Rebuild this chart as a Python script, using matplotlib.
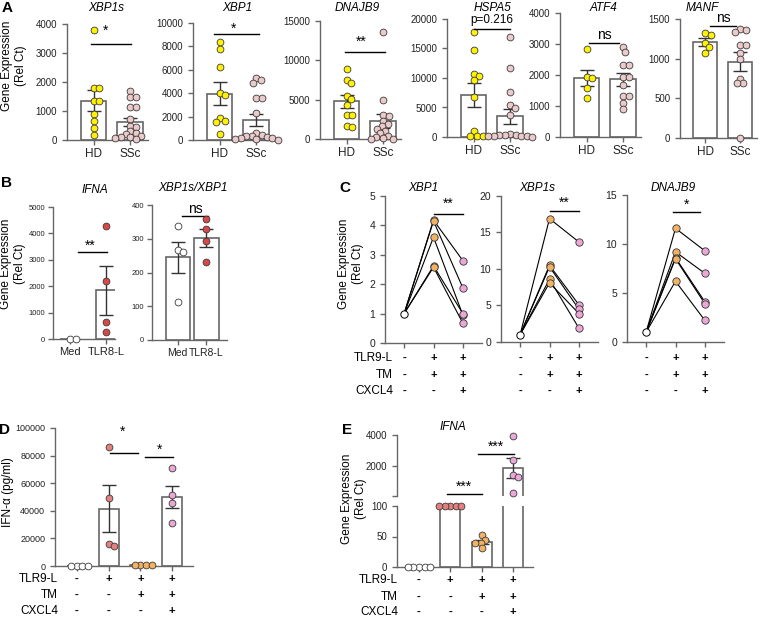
import numpy as np
import matplotlib
matplotlib.use('Agg')
import matplotlib.pyplot as plt
import matplotlib.transforms as mtransforms

plt.rcParams['font.family'] = ['Liberation Sans', 'DejaVu Sans']

# ---- data ----
# A: HD vs SSc
xbp1s_hd = [3790, 1780, 1780, 1360, 1360, 900, 670, 425, 170]
xbp1s_ssc = [1700, 1500, 1500, 1150, 1150, 720, 500, 450, 300, 250, 200, 150, 100, 100, 80, 50]
xbp1_hd = [8340, 7770, 6200, 4000, 3860, 1860, 1660, 1510, 490]
xbp1_ssc = [5300, 5100, 4900, 3550, 3550, 2300, 600, 450, 350, 300, 250, 200, 150, 100, 50, 30]
dnajb9_hd = [8900, 7500, 7100, 5500, 5100, 4300, 3100, 3100, 1600, 1500]
dnajb9_ssc = [13600, 4900, 3100, 2900, 2300, 1900, 1600, 1300, 1000, 700, 400, 200, 100, 50, 0]
hspa5_hd = [17750, 14750, 10600, 10400, 9600, 6760, 970, 230, 230, 230]
hspa5_ssc = [16950, 11700, 7630, 5420, 4900, 3730, 500, 400, 300, 300, 200, 200, 100, 100, 50]
atf4_hd = [2840, 1940, 1900, 1580, 1260]
atf4_ssc = [2900, 2730, 2330, 2330, 1920, 1920, 1690, 1310, 1310, 1100, 910]
manf_hd = [1320, 1300, 1200, 1150, 1070]
manf_ssc = [1370, 1365, 1335, 1170, 1170, 1075, 990, 750, 690, 690, 0]

# B: Med vs TLR8-L
ifna_med = [0, 0]
ifna_tlr8 = [4280, 2200, 640, 250]
ratio_med = [338, 266, 261, 113]
ratio_tlr8 = [358, 328, 294, 232]

# C: paired, baseline = 1
c_base = 1
c_xbp1_tm = [4.18, 4.15, 3.6, 2.62, 2.58]
c_xbp1_cx = [2.8, 1.87, 0.95, 1.0, 0.67]
c_xbp1s_tm = [16.9, 10.5, 10.3, 8.6, 8.1]
c_xbp1s_cx = [13.7, 5.1, 4.5, 1.9, 3.9]
c_dnajb9_tm = [11.6, 9.2, 8.6, 8.5, 6.2]
c_dnajb9_cx = [9.3, 7.0, 4.1, 3.9, 2.2]

# D: IFN-a protein
d_med = [0, 0, 0, 0]
d_tlr9 = [86000, 49500, 16000, 14500]
d_tm = [500, 500, 500, 500]
d_cxcl4 = [71000, 51500, 46000, 31500]

# E: IFNA expression
e_med = [0, 0, 0, 0, 0]
e_tlr9 = [100, 100, 100, 100, 100]
e_tm = [52, 45, 40, 39, 31]
e_cxcl4 = [3960, 2390, 1460, 1310, 300]

row_labels = ['TLR9-L', 'TM', 'CXCL4']
c_signs = [['-', '+', '+'], ['-', '+', '+'], ['-', '-', '+']]
de_signs = [['-', '+', '+', '+'], ['-', '-', '+', '+'], ['-', '-', '-', '+']]

# colours
YELLOW = '#FFF200'
SSC = '#EACACA'
RED = '#D84848'
ORANGE = '#F2B266'
LILAC = '#EBA8D6'
SALMON = '#E58080'
AXC = '#666666'

W, H = 763, 617
fig = plt.figure(figsize=(W / 100, H / 100), dpi=100)


def fx(x):
    return x / W


def fy(y):
    return 1 - y / H


def add_ax(l, t, r, b):
    ax = fig.add_axes([l / W, 1 - b / H, (r - l) / W, (b - t) / H])
    ax.patch.set_alpha(0)
    for s in ['top', 'right']:
        ax.spines[s].set_visible(False)
    for s in ['left', 'bottom']:
        ax.spines[s].set_color(AXC)
        ax.spines[s].set_linewidth(1.0)
    ax.tick_params(color=AXC, labelcolor='#222222', width=1.0, length=3.5, labelsize=7)
    return ax


def swarm(vals, ypx, xpx, d=5.6):
    # simple beeswarm: place each point as near the centre as it can go
    vals = np.asarray(vals, float)
    ys = vals * ypx
    xs = np.zeros(len(vals))
    done = []
    for i in np.argsort(-vals, kind='stable'):
        cands = [0.0]
        for j in done:
            dy = ys[i] - ys[j]
            if abs(dy) < d:
                dx = np.sqrt(d * d - dy * dy)
                cands += [xs[j] + dx, xs[j] - dx]
        cands.sort(key=abs)
        for c in cands:
            if all((c - xs[j]) ** 2 + (ys[i] - ys[j]) ** 2 >= d * d - 1e-6 for j in done):
                xs[i] = c
                break
        done.append(i)
    return xs / xpx


def scales(ax):
    bb = ax.get_position()
    x0, x1 = ax.get_xlim()
    y0, y1 = ax.get_ylim()
    return bb.height * H / (y1 - y0), bb.width * W / (x1 - x0)


def bar_group(ax, x, vals, color, width, bar=True, err=True, pts=True):
    vals = np.asarray(vals, float)
    m = vals.mean()
    se = vals.std(ddof=1) / np.sqrt(len(vals))
    if bar:
        ax.bar(x, m, width, color='white', edgecolor=AXC, lw=1.2, zorder=1)
    if err and se > 0:
        ax.errorbar(x, m, yerr=se, fmt='none', ecolor='#333333', elinewidth=1,
                    capsize=5, capthick=1, zorder=2)
    if pts:
        ypx, xpx = scales(ax)
        offs = swarm(vals - ax.get_ylim()[0], ypx, xpx)
        ax.scatter(x + offs, vals, s=24, c=color, edgecolors='#3a3a3a',
                   linewidths=0.6, zorder=3, clip_on=False)
    return m


def sig(ax, x0, x1, y, text, tx, ty, fs=10):
    ax.plot([x0, x1], [y, y], color='black', lw=1, clip_on=False, zorder=4)
    ax.text(tx, ty, text, ha='center', va='center', fontsize=fs, clip_on=False)


def ylab(x, y, text):
    fig.text(fx(x), fy(y), text, rotation=90, ha='center', va='center',
             fontsize=8.5, linespacing=1.25)


def rows(ax, signs, ys, lab_x=None):
    tr = mtransforms.blended_transform_factory(ax.transData, fig.transFigure)
    for row, y in zip(signs, ys):
        for i, s in enumerate(row):
            ax.text(i, fy(y), s, transform=tr, ha='center', va='center',
                    fontsize=8, fontweight='bold')
    if lab_x is not None:
        for lab, y in zip(row_labels, ys):
            fig.text(fx(lab_x), fy(y), lab, ha='right', va='center', fontsize=8.5)


# ---- panel A ----
a_titles = ['XBP1s', 'XBP1', 'DNAJB9', 'HSPA5', 'ATF4', 'MANF']
a_hd = [xbp1s_hd, xbp1_hd, dnajb9_hd, hspa5_hd, atf4_hd, manf_hd]
a_ssc = [xbp1s_ssc, xbp1_ssc, dnajb9_ssc, hspa5_ssc, atf4_ssc, manf_ssc]
a_ymax = [4000, 10000, 15000, 20000, 4000, 1500]
a_step = [1000, 2000, 5000, 5000, 1000, 500]
a_boxes = [(67, 24, 148, 140), (193, 23, 274, 140), (320, 21, 401, 139),
           (447, 19, 528, 137), (560, 13, 641, 137), (680, 19, 757, 138)]
a_title_x = [106, 237, 357, 493, 603, 702]
a_sig = [(-0.08, 1.03, 3320, '*', 0.33, 3760),
         (-0.14, 1.08, 9060, '*', 0.38, 9490),
         (-0.03, 1.05, 11100, '**', 0.39, 12360),
         (0.0, 1.0, 18250, None, 0, 0),
         (0.08, 0.89, 3030, None, 0, 0),
         (0.14, 0.89, 1413, None, 0, 0)]
a_word = [None, None, None, 'p=0.216', 'ns', 'ns']

for k in range(6):
    ax = add_ax(*a_boxes[k])
    ax.set_xlim(-0.72, 1.48)
    ax.set_ylim(0, a_ymax[k])
    ax.set_yticks(np.arange(0, a_ymax[k] + 1, a_step[k]))
    ax.set_xticks([0, 1], ['HD', 'SSc'])
    ax.tick_params(axis='x', labelsize=8.5, pad=2)
    bar_group(ax, 0, a_hd[k], YELLOW, 0.7)
    bar_group(ax, 1, a_ssc[k], SSC, 0.7)
    x0, x1, y, t, tx, ty = a_sig[k]
    if t:
        sig(ax, x0, x1, y, t, tx, ty)
    else:
        ax.plot([x0, x1], [y, y], color='black', lw=1, clip_on=False, zorder=4)
        ax.annotate(a_word[k], ((x0 + x1) / 2, y), xytext=(0, 2.5 if a_word[k] != 'ns' else 0.5),
                    textcoords='offset points', ha='center', va='bottom',
                    fontsize=8.5 if a_word[k] != 'ns' else 10)
    fig.text(fx(a_title_x[k]), fy(8), a_titles[k], ha='center', va='center',
             style='italic', fontsize=8.5)

fig.text(fx(7), fy(8), 'A', fontsize=11, fontweight='bold', ha='center', va='center')
ylab(14, 66, 'Gene Expression\n(Rel Ct)')

# ---- panel B ----
axb1 = add_ax(53, 207, 115, 339)
axb1.set_xlim(-0.47, 1.25)
axb1.set_ylim(0, 5000)
axb1.set_yticks(np.arange(0, 5001, 1000))
axb1.set_xticks([0, 1], ['Med', 'TLR8-L'])
axb1.tick_params(axis='y', labelsize=5.5, pad=2)
axb1.tick_params(axis='x', labelsize=8, pad=2)
bar_group(axb1, 0, ifna_med, 'white', 0.53)
bar_group(axb1, 1, ifna_tlr8, RED, 0.53)
sig(axb1, 0.22, 1.03, 3290, '**', 0.56, 3540)
fig.text(fx(95), fy(190), 'IFNA', ha='center', va='center', style='italic', fontsize=8.5)

axb2 = add_ax(152, 205, 227, 340)
axb2.set_xlim(-0.9, 1.72)
axb2.set_ylim(0, 400)
axb2.set_yticks(np.arange(0, 401, 100))
axb2.set_xticks([0, 1], ['Med', 'TLR8-L'])
axb2.tick_params(axis='y', labelsize=5.5, pad=2)
axb2.tick_params(axis='x', labelsize=7.5, pad=2)
bar_group(axb2, 0, ratio_med, 'white', 0.85)
bar_group(axb2, 1, ratio_tlr8, RED, 0.85)
axb2.plot([0.16, 1.07], [366, 366], color='black', lw=1, clip_on=False)
axb2.text(0.6, 366, 'ns', ha='center', va='bottom', fontsize=10)
fig.text(fx(193), fy(188), 'XBP1s/XBP1', ha='center', va='center', style='italic', fontsize=8.5)

fig.text(fx(7), fy(183), 'B', fontsize=11, fontweight='bold', ha='center', va='center')
ylab(13, 264, 'Gene Expression\n(Rel Ct)')

# ---- panel C ----
c_tm = [c_xbp1_tm, c_xbp1s_tm, c_dnajb9_tm]
c_cx = [c_xbp1_cx, c_xbp1s_cx, c_dnajb9_cx]
c_titles = ['XBP1', 'XBP1s', 'DNAJB9']
c_title_x = [423, 537, 673]
c_ymax = [5, 20, 15]
c_step = [1, 5, 5]
c_boxes = [(385, 196, 482, 343), (501, 196, 598, 342), (627, 195, 724, 342)]
c_sig = [(1.03, 2.0, 4.4, '**', 1.5, 4.72),
         (1.03, 2.0, 18.0, '**', 1.5, 19.1),
         (0.9, 1.85, 13.3, '*', 1.38, 14.0)]

for k in range(3):
    ax = add_ax(*c_boxes[k])
    ax.set_xlim(-0.65, 2.65)
    ax.set_ylim(0, c_ymax[k])
    ax.set_yticks(np.arange(0, c_ymax[k] + 0.01, c_step[k]))
    ax.set_xticks([0, 1, 2], ['', '', ''])
    ax.tick_params(axis='y', labelsize=7.5)
    for a, b in zip(c_tm[k], c_cx[k]):
        ax.plot([0, 1, 2], [c_base, a, b], color='black', lw=0.8, zorder=1)
    ax.scatter([0], [c_base], s=28, c='white', edgecolors='black', linewidths=0.7,
               zorder=3, clip_on=False)
    ax.scatter(np.ones(len(c_tm[k])), c_tm[k], s=28, c=ORANGE, edgecolors='#333333',
               linewidths=0.6, zorder=3, clip_on=False)
    ax.scatter(np.full(len(c_cx[k]), 2), c_cx[k], s=28, c=LILAC, edgecolors='#333333',
               linewidths=0.6, zorder=3, clip_on=False)
    x0, x1, y, t, tx, ty = c_sig[k]
    sig(ax, x0, x1, y, t, tx, ty)
    fig.text(fx(c_title_x[k]), fy(188), c_titles[k], ha='center', va='center',
             style='italic', fontsize=8.5)
    rows(ax, c_signs, [358, 375, 391], lab_x=393 if k == 0 else None)

fig.text(fx(345), fy(188), 'C', fontsize=11, fontweight='bold', ha='center', va='center')
ylab(351, 264, 'Gene Expression\n(Rel Ct)')

# ---- panel D ----
axd = add_ax(55, 428, 193, 566)
axd.set_xlim(-0.69, 3.66)
axd.set_ylim(0, 100000)
axd.set_yticks(np.arange(0, 100001, 20000))
axd.set_xticks([0, 1, 2, 3], ['', '', '', ''])
axd.tick_params(axis='y', labelsize=6.5)
for i, (v, c) in enumerate(zip([d_med, d_tlr9, d_tm, d_cxcl4], ['white', SALMON, ORANGE, LILAC])):
    bar_group(axd, i, v, c, 0.63)
sig(axd, 1.04, 1.93, 82000, '*', 1.45, 97300)
sig(axd, 2.15, 3.03, 79000, '*', 2.59, 84000)
rows(axd, de_signs, [579, 595, 611], lab_x=58)
fig.text(fx(5), fy(430), 'D', fontsize=11, fontweight='bold', ha='center', va='center')
ylab(8, 492, 'IFN-α (pg/ml)')

# ---- panel E (broken axis) ----
axu = add_ax(397, 435, 533, 496)
axl = add_ax(397, 506, 533, 567)
for ax in (axu, axl):
    ax.set_xlim(-0.7, 3.64)
axu.set_ylim(100, 4000)
axl.set_ylim(0, 100)
axu.spines['bottom'].set_visible(False)
axu.set_xticks([])
axu.set_yticks([100, 2000, 4000], ['', '2000', '4000'])
axl.set_yticks([0, 50, 100])
axl.set_xticks([0, 1, 2, 3], ['', '', '', ''])
for ax in (axu, axl):
    ax.tick_params(axis='y', labelsize=7)

for i, (v, c) in enumerate(zip([e_med, e_tlr9, e_tm], ['white', SALMON, ORANGE])):
    bar_group(axl, i, v, c, 0.64)
m4 = bar_group(axu, 3, e_cxcl4, LILAC, 0.64)
# the tall bar runs on through the lower segment, open at the break
top_l = axl.get_ylim()[1]
for xe in (3 - 0.32, 3 + 0.32):
    axl.plot([xe, xe], [0, min(m4, top_l)], color=AXC, lw=1.2, zorder=1,
             clip_on=False, solid_capstyle='butt')

sig(axu, 0.89, 2.0, 230, '***', 1.45, 700)
sig(axu, 1.88, 3.03, 2810, '***', 2.45, 3260)
rows(axl, de_signs, [580, 597, 612], lab_x=398)
fig.text(fx(453), fy(427), 'IFNA', ha='center', va='center', style='italic', fontsize=8.5)
fig.text(fx(347), fy(430), 'E', fontsize=11, fontweight='bold', ha='center', va='center')
ylab(354, 499, 'Gene Expression\n(Rel Ct)')

fig.savefig('out.png', dpi=100)
